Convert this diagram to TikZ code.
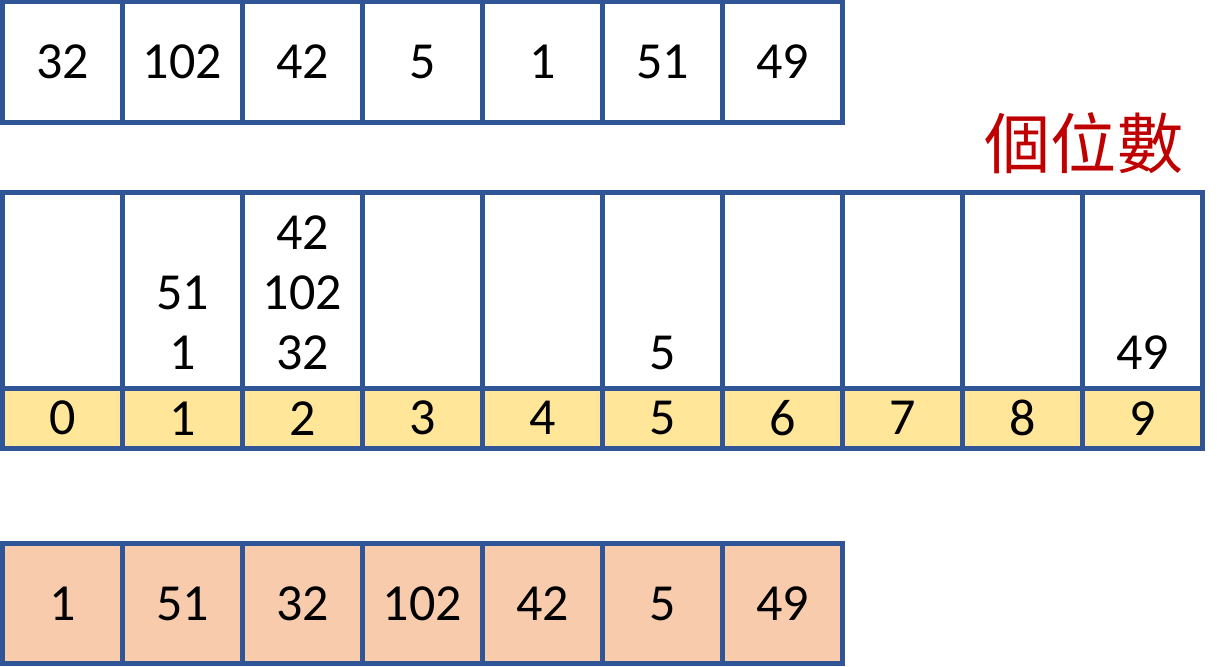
\documentclass[tikz,border=0pt]{standalone}
\usepackage{fontspec}
\setmainfont{Carlito}
\newfontfamily\cjkfont{Noto Sans CJK TC}
\usepackage{tikz}

\definecolor{cellblue}{HTML}{2F5597}
\definecolor{digityellow}{HTML}{FFE699}
\definecolor{sortedpeach}{HTML}{F8CBAD}
\definecolor{titlered}{HTML}{C00000}

\tikzset{
  cell/.style={rectangle, draw=cellblue, line width=0.125cm, inner sep=0pt,
    minimum width=3cm, minimum height=3cm, font=\fontsize{37}{40}\selectfont},
  bucket/.style={cell, minimum height=4.89cm},
  digit/.style={cell, fill=digityellow, minimum height=1.51cm},
  sorted/.style={cell, fill=sortedpeach},
  entry/.style={inner sep=0pt, font=\fontsize{37}{40}\selectfont}
}

\begin{document}
\begin{tikzpicture}[x=0.025cm, y=-0.025cm]
\useasboundingbox (0,0) rectangle (1225,666);

% input row
\node[cell] (a1) at (62.5,62) {32};
\node[cell] (a2) at (182.5,62) {102};
\node[cell] (a3) at (302.5,62) {42};
\node[cell] (a4) at (422.5,62) {5};
\node[cell] (a5) at (542.5,62) {1};
\node[cell] (a6) at (662.5,62) {51};
\node[cell] (a7) at (782.5,62) {49};

\node[text=titlered, font=\cjkfont\fontsize{47}{50}\selectfont] (title) at (1084,143) {個位數};

% buckets
\node[bucket] (b0) at (62.5,290.25) {};
\node[bucket] (b1) at (182.5,290.25) {};
\node[bucket] (b2) at (302.5,290.25) {};
\node[bucket] (b3) at (422.5,290.25) {};
\node[bucket] (b4) at (542.5,290.25) {};
\node[bucket] (b5) at (662.5,290.25) {};
\node[bucket] (b6) at (782.5,290.25) {};
\node[bucket] (b7) at (902.5,290.25) {};
\node[bucket] (b8) at (1022.5,290.25) {};
\node[bucket] (b9) at (1142.5,290.25) {};

\node[entry] (s12) at (182.5,293) {51};
\node[entry] (s11) at (182.5,353) {1};
\node[entry] (s23) at (302.5,233) {42};
\node[entry] (s22) at (302.5,293) {102};
\node[entry] (s21) at (302.5,353) {32};
\node[entry] (s51) at (662.5,353) {5};
\node[entry] (s91) at (1142.5,353) {49};

% digit labels
\node[digit] (d0) at (62.5,418.25) {0};
\node[digit] (d1) at (182.5,418.25) {1};
\node[digit] (d2) at (302.5,418.25) {2};
\node[digit] (d3) at (422.5,418.25) {3};
\node[digit] (d4) at (542.5,418.25) {4};
\node[digit] (d5) at (662.5,418.25) {5};
\node[digit] (d6) at (782.5,418.25) {6};
\node[digit] (d7) at (902.5,418.25) {7};
\node[digit] (d8) at (1022.5,418.25) {8};
\node[digit] (d9) at (1142.5,418.25) {9};

% output row
\node[sorted] (c1) at (62.5,603.5) {1};
\node[sorted] (c2) at (182.5,603.5) {51};
\node[sorted] (c3) at (302.5,603.5) {32};
\node[sorted] (c4) at (422.5,603.5) {102};
\node[sorted] (c5) at (542.5,603.5) {42};
\node[sorted] (c6) at (662.5,603.5) {5};
\node[sorted] (c7) at (782.5,603.5) {49};

\end{tikzpicture}
\end{document}
